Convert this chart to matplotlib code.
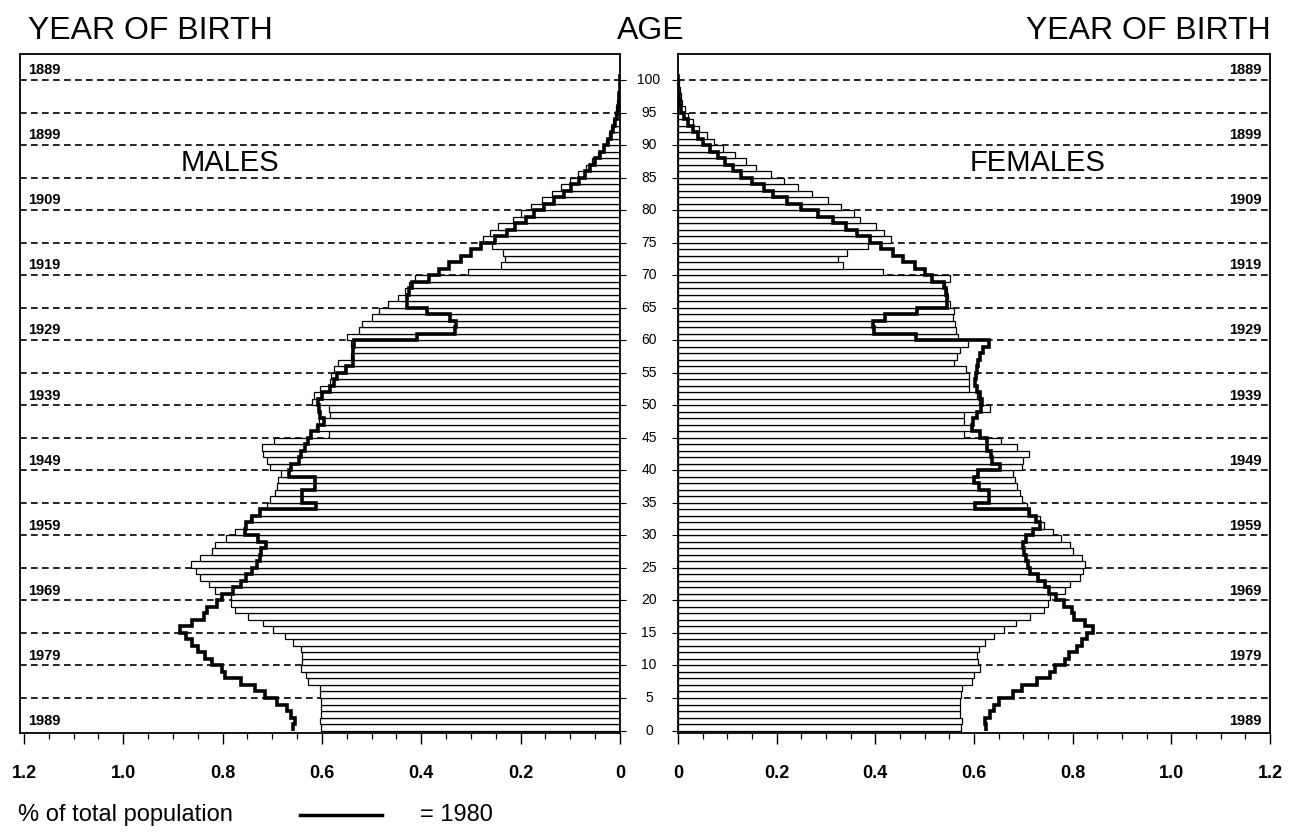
import numpy as np
import matplotlib
matplotlib.use("Agg")
import matplotlib.pyplot as plt
from matplotlib.ticker import MultipleLocator
from matplotlib.lines import Line2D
from matplotlib import transforms

plt.rcParams["font.family"] = ["Liberation Sans", "DejaVu Sans"]

# single years of age 0..100
ages = np.arange(101)

# % of total population, bars (current year)
male_bars = [
    0.601, 0.605, 0.601, 0.601, 0.601, 0.603, 0.604, 0.628, 0.633, 0.643,
    0.641, 0.641, 0.643, 0.658, 0.675, 0.698, 0.718, 0.749, 0.776, 0.784,
    0.783, 0.815, 0.828, 0.846, 0.853, 0.864, 0.845, 0.821, 0.816, 0.794,
    0.776, 0.756, 0.745, 0.727, 0.710, 0.704, 0.695, 0.690, 0.688, 0.683,
    0.704, 0.710, 0.718, 0.720, 0.696, 0.586, 0.613, 0.606, 0.584, 0.586,
    0.621, 0.616, 0.603, 0.584, 0.581, 0.576, 0.568, 0.542, 0.539, 0.542,
    0.550, 0.526, 0.519, 0.499, 0.485, 0.468, 0.446, 0.433, 0.425, 0.412,
    0.306, 0.240, 0.232, 0.236, 0.258, 0.275, 0.261, 0.245, 0.216, 0.200,
    0.179, 0.158, 0.137, 0.118, 0.100, 0.084, 0.069, 0.057, 0.045, 0.035,
    0.028, 0.023, 0.018, 0.014, 0.011, 0.008, 0.006, 0.004, 0.003, 0.002,
    0.001,
]
female_bars = [
    0.573, 0.575, 0.571, 0.571, 0.572, 0.573, 0.575, 0.596, 0.599, 0.613,
    0.608, 0.606, 0.611, 0.623, 0.640, 0.661, 0.686, 0.713, 0.741, 0.749,
    0.755, 0.785, 0.794, 0.814, 0.821, 0.824, 0.819, 0.800, 0.795, 0.776,
    0.761, 0.741, 0.734, 0.714, 0.707, 0.697, 0.694, 0.687, 0.684, 0.679,
    0.697, 0.700, 0.711, 0.687, 0.655, 0.579, 0.596, 0.580, 0.580, 0.633,
    0.611, 0.606, 0.590, 0.589, 0.590, 0.584, 0.560, 0.565, 0.571, 0.587,
    0.567, 0.564, 0.562, 0.558, 0.560, 0.552, 0.548, 0.545, 0.542, 0.552,
    0.416, 0.335, 0.325, 0.343, 0.386, 0.431, 0.418, 0.402, 0.368, 0.356,
    0.330, 0.305, 0.272, 0.244, 0.214, 0.188, 0.158, 0.138, 0.116, 0.092,
    0.073, 0.059, 0.043, 0.030, 0.020, 0.014, 0.009, 0.006, 0.004, 0.002,
    0.001,
]

# 1980 profile (thick step line)
male_1980 = [
    0.658, 0.655, 0.663, 0.671, 0.690, 0.714, 0.734, 0.764, 0.796, 0.801,
    0.821, 0.835, 0.850, 0.861, 0.873, 0.885, 0.861, 0.838, 0.831, 0.811,
    0.801, 0.779, 0.764, 0.752, 0.741, 0.730, 0.725, 0.722, 0.712, 0.729,
    0.754, 0.752, 0.741, 0.724, 0.613, 0.640, 0.640, 0.615, 0.615, 0.667,
    0.663, 0.647, 0.642, 0.635, 0.628, 0.622, 0.609, 0.596, 0.603, 0.606,
    0.609, 0.599, 0.583, 0.576, 0.569, 0.552, 0.538, 0.537, 0.537, 0.536,
    0.408, 0.332, 0.331, 0.342, 0.389, 0.428, 0.429, 0.425, 0.418, 0.384,
    0.364, 0.344, 0.321, 0.299, 0.279, 0.252, 0.228, 0.211, 0.189, 0.174,
    0.154, 0.132, 0.112, 0.098, 0.083, 0.070, 0.060, 0.050, 0.040, 0.032,
    0.025, 0.019, 0.014, 0.010, 0.007, 0.005, 0.003, 0.002, 0.001, 0.001,
    0.000,
]
female_1980 = [
    0.625, 0.623, 0.633, 0.640, 0.650, 0.680, 0.697, 0.728, 0.755, 0.765,
    0.785, 0.792, 0.809, 0.819, 0.829, 0.842, 0.826, 0.803, 0.799, 0.782,
    0.767, 0.753, 0.744, 0.730, 0.714, 0.710, 0.706, 0.702, 0.700, 0.706,
    0.720, 0.733, 0.726, 0.712, 0.602, 0.630, 0.630, 0.610, 0.600, 0.609,
    0.653, 0.637, 0.634, 0.626, 0.626, 0.612, 0.596, 0.598, 0.606, 0.615,
    0.617, 0.613, 0.607, 0.603, 0.605, 0.607, 0.609, 0.613, 0.618, 0.630,
    0.482, 0.398, 0.395, 0.420, 0.484, 0.546, 0.545, 0.543, 0.540, 0.515,
    0.500, 0.480, 0.456, 0.436, 0.412, 0.389, 0.362, 0.341, 0.314, 0.284,
    0.250, 0.220, 0.193, 0.174, 0.149, 0.128, 0.111, 0.096, 0.081, 0.064,
    0.050, 0.040, 0.030, 0.020, 0.013, 0.007, 0.004, 0.002, 0.001, 0.001,
    0.000,
]

birth_years = list(range(1889, 1990, 10))
age_ticks = list(range(0, 101, 5))
x_ticks = [0, 0.2, 0.4, 0.6, 0.8, 1.0, 1.2]
x_labels = ["0", "0.2", "0.4", "0.6", "0.8", "1.0", "1.2"]

W, H = 1289, 840
fig = plt.figure(figsize=(W / 100, H / 100), dpi=100)


def rect(x0, y0, x1, y1):
    return [x0 / W, 1 - y1 / H, (x1 - x0) / W, (y1 - y0) / H]


axL = fig.add_axes(rect(20, 54, 620, 733))
axR = fig.add_axes(rect(678, 54, 1270, 733))

edges = np.arange(len(ages) + 1)

for ax, bars, line, lim in [
    (axL, male_bars, male_1980, (1.208, 0)),
    (axR, female_bars, female_1980, (0, 1.2)),
]:
    for a in age_ticks[1:]:
        ax.axhline(a, color="black", lw=1.2, ls=(0, (4, 2.6)), zorder=1)
    ax.barh(ages, bars, height=1, align="edge", color="white",
            edgecolor="black", linewidth=0.9, zorder=2)
    ax.stairs(line, edges, orientation="horizontal", baseline=None,
              color="black", linewidth=2.6, zorder=3)
    ax.set_xlim(*lim)
    ax.set_ylim(-0.38, 104)
    ax.set_xticks(x_ticks)
    ax.set_xticklabels(x_labels, fontsize=13, fontweight="bold")
    ax.xaxis.set_minor_locator(MultipleLocator(0.05))
    ax.tick_params(axis="x", which="major", direction="out", length=8,
                   width=1, pad=15)
    ax.tick_params(axis="x", which="minor", direction="out", length=4.5,
                   width=0.9)
    ax.set_yticks(age_ticks)
    ax.set_yticklabels([])
    ax.tick_params(axis="y", direction="out", length=4.5, width=0.8)
    for s in ax.spines.values():
        s.set_linewidth(1.3)

axL.yaxis.tick_right()
axR.yaxis.tick_left()

# year of birth labels
for yr in birth_years:
    y = 1990.5 - yr
    axL.text(0.014, y, str(yr), transform=axL.get_yaxis_transform(),
             ha="left", va="center", fontsize=10.5, fontweight="bold")
    axR.text(0.986, y, str(yr), transform=axR.get_yaxis_transform(),
             ha="right", va="center", fontsize=10.5, fontweight="bold")

# age labels in the gap
mid = transforms.blended_transform_factory(fig.transFigure, axL.transData)
for a in age_ticks:
    fig.text(649 / W, a, str(a), transform=mid, ha="center", va="center",
             fontsize=10)

fig.text(28 / W, 1 - 31 / H, "YEAR OF BIRTH", fontsize=23, ha="left",
         va="center")
fig.text(1271 / W, 1 - 31 / H, "YEAR OF BIRTH", fontsize=23, ha="right",
         va="center")
fig.text(651 / W, 1 - 31 / H, "AGE", fontsize=23, ha="center", va="center")
fig.text(230 / W, 1 - 163 / H, "MALES", fontsize=21, ha="center",
         va="center")
fig.text(1038 / W, 1 - 163 / H, "FEMALES", fontsize=21, ha="center",
         va="center")

# legend line
ly = 1 - 815 / H
fig.text(18 / W, ly, "% of total population", fontsize=17,
         ha="left", va="center")
fig.add_artist(Line2D([300 / W, 382 / W], [ly, ly],
                      transform=fig.transFigure, color="black", lw=2.5))
fig.text(420 / W, ly, "= 1980", fontsize=17, ha="left", va="center")

fig.savefig("out.png", dpi=100)
